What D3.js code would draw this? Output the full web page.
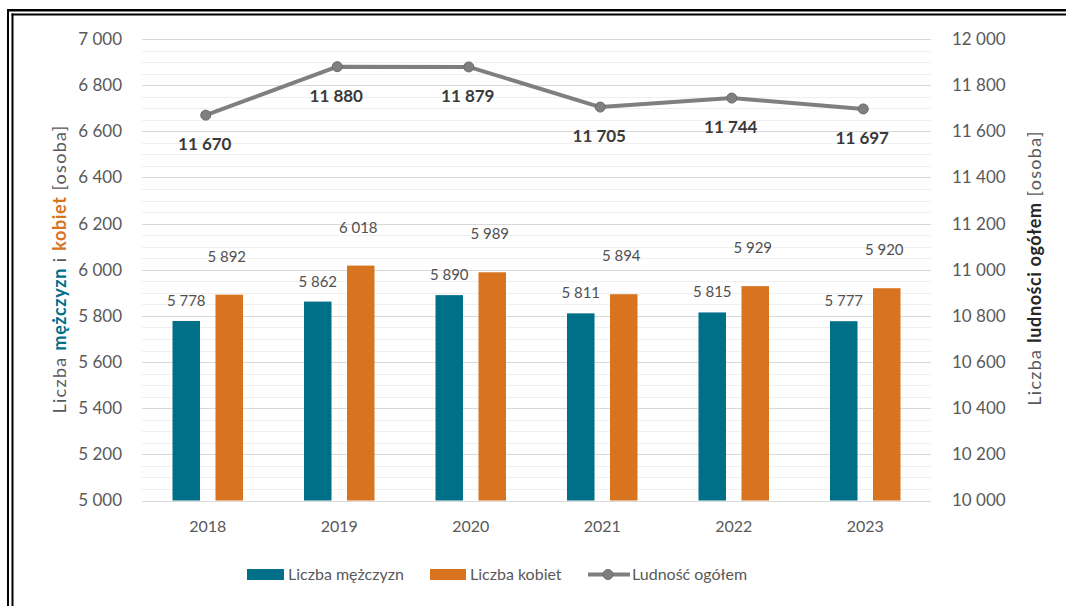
<!DOCTYPE html>
<html><head><meta charset="utf-8">
<script src="https://cdn.jsdelivr.net/npm/d3@7"></script>
<style>
body{margin:0;background:#fff;}
svg{display:block;font-family:Lato, "Open Sans", sans-serif;}
</style></head>
<body><svg id="c" width="1066" height="606"></svg>
<script>
const years = ["2018","2019","2020","2021","2022","2023"];
const men = [5778,5862,5890,5811,5815,5777];
const women = [5892,6018,5989,5894,5929,5920];
const total = [11670,11880,11879,11705,11744,11697];
const leftTicks = [5000,5200,5400,5600,5800,6000,6200,6400,6600,6800,7000];
const rightTicks = [10000,10200,10400,10600,10800,11000,11200,11400,11600,11800,12000];
const seriesNames = ["Liczba mężczyzn","Liczba kobiet","Ludność ogółem"];

const C_MEN="#006f88", C_WOMEN="#d8731f", C_LINE="#7f7f7f", C_TXT="#595959";
const fmt = v => d3.format(",")(v).replace(/,/g," ");

const svg = d3.select("#c");
// double border (left & top)
svg.append("rect").attr("x",7).attr("y",9).attr("width",2).attr("height",597).attr("fill","#000");
svg.append("rect").attr("x",11.5).attr("y",13.5).attr("width",2).attr("height",593).attr("fill","#000");
svg.append("rect").attr("x",7).attr("y",9).attr("width",1059).attr("height",2.5).attr("fill","#000");
svg.append("rect").attr("x",11.5).attr("y",13.5).attr("width",1055).attr("height",2).attr("fill","#000");

const x = d3.scaleBand().domain(years).range([142,931]);
const y = d3.scaleLinear().domain([5000,7000]).range([500.5,39]);
const y2 = d3.scaleLinear().domain([10000,12000]).range([500.5,39]);

// grid
const minor = d3.range(5050,7000,50).filter(v=>v%200!==0);
svg.append("g").selectAll("line").data(minor).join("line")
  .attr("x1",142).attr("x2",931).attr("y1",d=>Math.round(y(d))+0.5).attr("y2",d=>Math.round(y(d))+0.5)
  .attr("stroke","#efefef").attr("stroke-width",1);
svg.append("g").selectAll("line").data(leftTicks).join("line")
  .attr("x1",142).attr("x2",931).attr("y1",d=>Math.round(y(d))+0.5).attr("y2",d=>Math.round(y(d))+0.5)
  .attr("stroke","#d9d9d9").attr("stroke-width",1);

// axes labels
const yl = d3.axisLeft(y).tickValues(leftTicks).tickFormat(fmt).tickSize(0).tickPadding(0);
const gl = svg.append("g").attr("transform","translate(122,0)").call(yl);
gl.select(".domain").remove();
gl.selectAll("text").attr("fill",C_TXT).style("font-size","17px").style("font-family","Lato");

const yr = d3.axisRight(y2).tickValues(rightTicks).tickFormat(fmt).tickSize(0).tickPadding(0);
const gr = svg.append("g").attr("transform","translate(952,0)").call(yr);
gr.select(".domain").remove();
gr.selectAll("text").attr("fill",C_TXT).style("font-size","17px").style("font-family","Lato");

const xa = d3.axisBottom(x).tickSize(0).tickPadding(0);
const gx = svg.append("g").attr("transform","translate(0,521)").call(xa);
gx.select(".domain").remove();
gx.selectAll("text").attr("fill",C_TXT).style("font-size","16px").style("font-family","Lato");

// bars
const bw = 27.5;
const cx = d => x(d)+x.bandwidth()/2;
svg.append("g").selectAll("rect").data(years).join("rect")
  .attr("x",(d)=>cx(d)-21.5-bw/2).attr("width",bw)
  .attr("y",(d,i)=>y(men[i])).attr("height",(d,i)=>y(5000)-y(men[i])).attr("fill",C_MEN);
svg.append("g").selectAll("rect").data(years).join("rect")
  .attr("x",(d)=>cx(d)+21.5-bw/2).attr("width",bw)
  .attr("y",(d,i)=>y(women[i])).attr("height",(d,i)=>y(5000)-y(women[i])).attr("fill",C_WOMEN);

// bar labels
svg.append("g").selectAll("text").data(years).join("text")
  .attr("x",d=>cx(d)-21.5).attr("y",(d,i)=>y(men[i])-15).attr("text-anchor","middle")
  .attr("fill","#505050").style("font-size","15px").text((d,i)=>fmt(men[i]));
svg.append("g").selectAll("text").data(years).join("text")
  .attr("x",d=>cx(d)+19).attr("y",(d,i)=>y(women[i])-33).attr("text-anchor","middle")
  .attr("fill","#505050").style("font-size","15px").text((d,i)=>fmt(women[i]));

// line
const line = d3.line().x((d,i)=>cx(years[i])-2).y(d=>y2(d));
svg.append("path").datum(total).attr("d",line).attr("fill","none")
  .attr("stroke",C_LINE).attr("stroke-width",4).attr("stroke-linejoin","round");
svg.append("g").selectAll("circle").data(total).join("circle")
  .attr("cx",(d,i)=>cx(years[i])-2).attr("cy",d=>y2(d)).attr("r",5)
  .attr("fill",C_LINE).attr("stroke","#6a6a6a").attr("stroke-width",1);
svg.append("g").selectAll("text").data(total).join("text")
  .attr("x",(d,i)=>cx(years[i])-3).attr("y",d=>y2(d)+35).attr("text-anchor","middle")
  .attr("fill","#3a3a3a").style("font-size","17px").style("font-weight","bold").text(d=>fmt(d));

// axis titles
const lt = svg.append("text").attr("transform","translate(66,269) rotate(-90)")
  .attr("text-anchor","middle").style("font-size","18px").style("letter-spacing","1.3px").attr("fill",C_TXT);
lt.append("tspan").text("Liczba ");
lt.append("tspan").text("mężczyzn").attr("fill",C_MEN).style("font-weight","bold").style("letter-spacing","0.6px");
lt.append("tspan").text(" i ");
lt.append("tspan").text("kobiet").attr("fill",C_WOMEN).style("font-weight","bold").style("letter-spacing","0.6px");
lt.append("tspan").text(" [osoba]");

const rt = svg.append("text").attr("transform","translate(1041,268) rotate(-90)")
  .attr("text-anchor","middle").style("font-size","18px").style("letter-spacing","1.3px").attr("fill",C_TXT);
rt.append("tspan").text("Liczba ");
rt.append("tspan").text("ludności ogółem").attr("fill","#262626").style("font-weight","bold").style("letter-spacing","0.6px");
rt.append("tspan").text(" [osoba]");

// legend
const lg = svg.append("g").style("font-size","16px");
lg.append("rect").attr("x",247).attr("y",569).attr("width",37).attr("height",11).attr("fill",C_MEN);
lg.append("text").attr("x",288).attr("y",580).attr("fill",C_TXT).text(seriesNames[0]);
lg.append("rect").attr("x",430).attr("y",569).attr("width",36).attr("height",11).attr("fill",C_WOMEN);
lg.append("text").attr("x",470).attr("y",580).attr("fill",C_TXT).text(seriesNames[1]);
lg.append("line").attr("x1",588).attr("x2",630).attr("y1",574.5).attr("y2",574.5).attr("stroke",C_LINE).attr("stroke-width",4);
lg.append("circle").attr("cx",608).attr("cy",574.5).attr("r",5).attr("fill",C_LINE).attr("stroke","#6a6a6a");
lg.append("text").attr("x",632).attr("y",580).attr("fill",C_TXT).text(seriesNames[2]);
</script></body></html>
